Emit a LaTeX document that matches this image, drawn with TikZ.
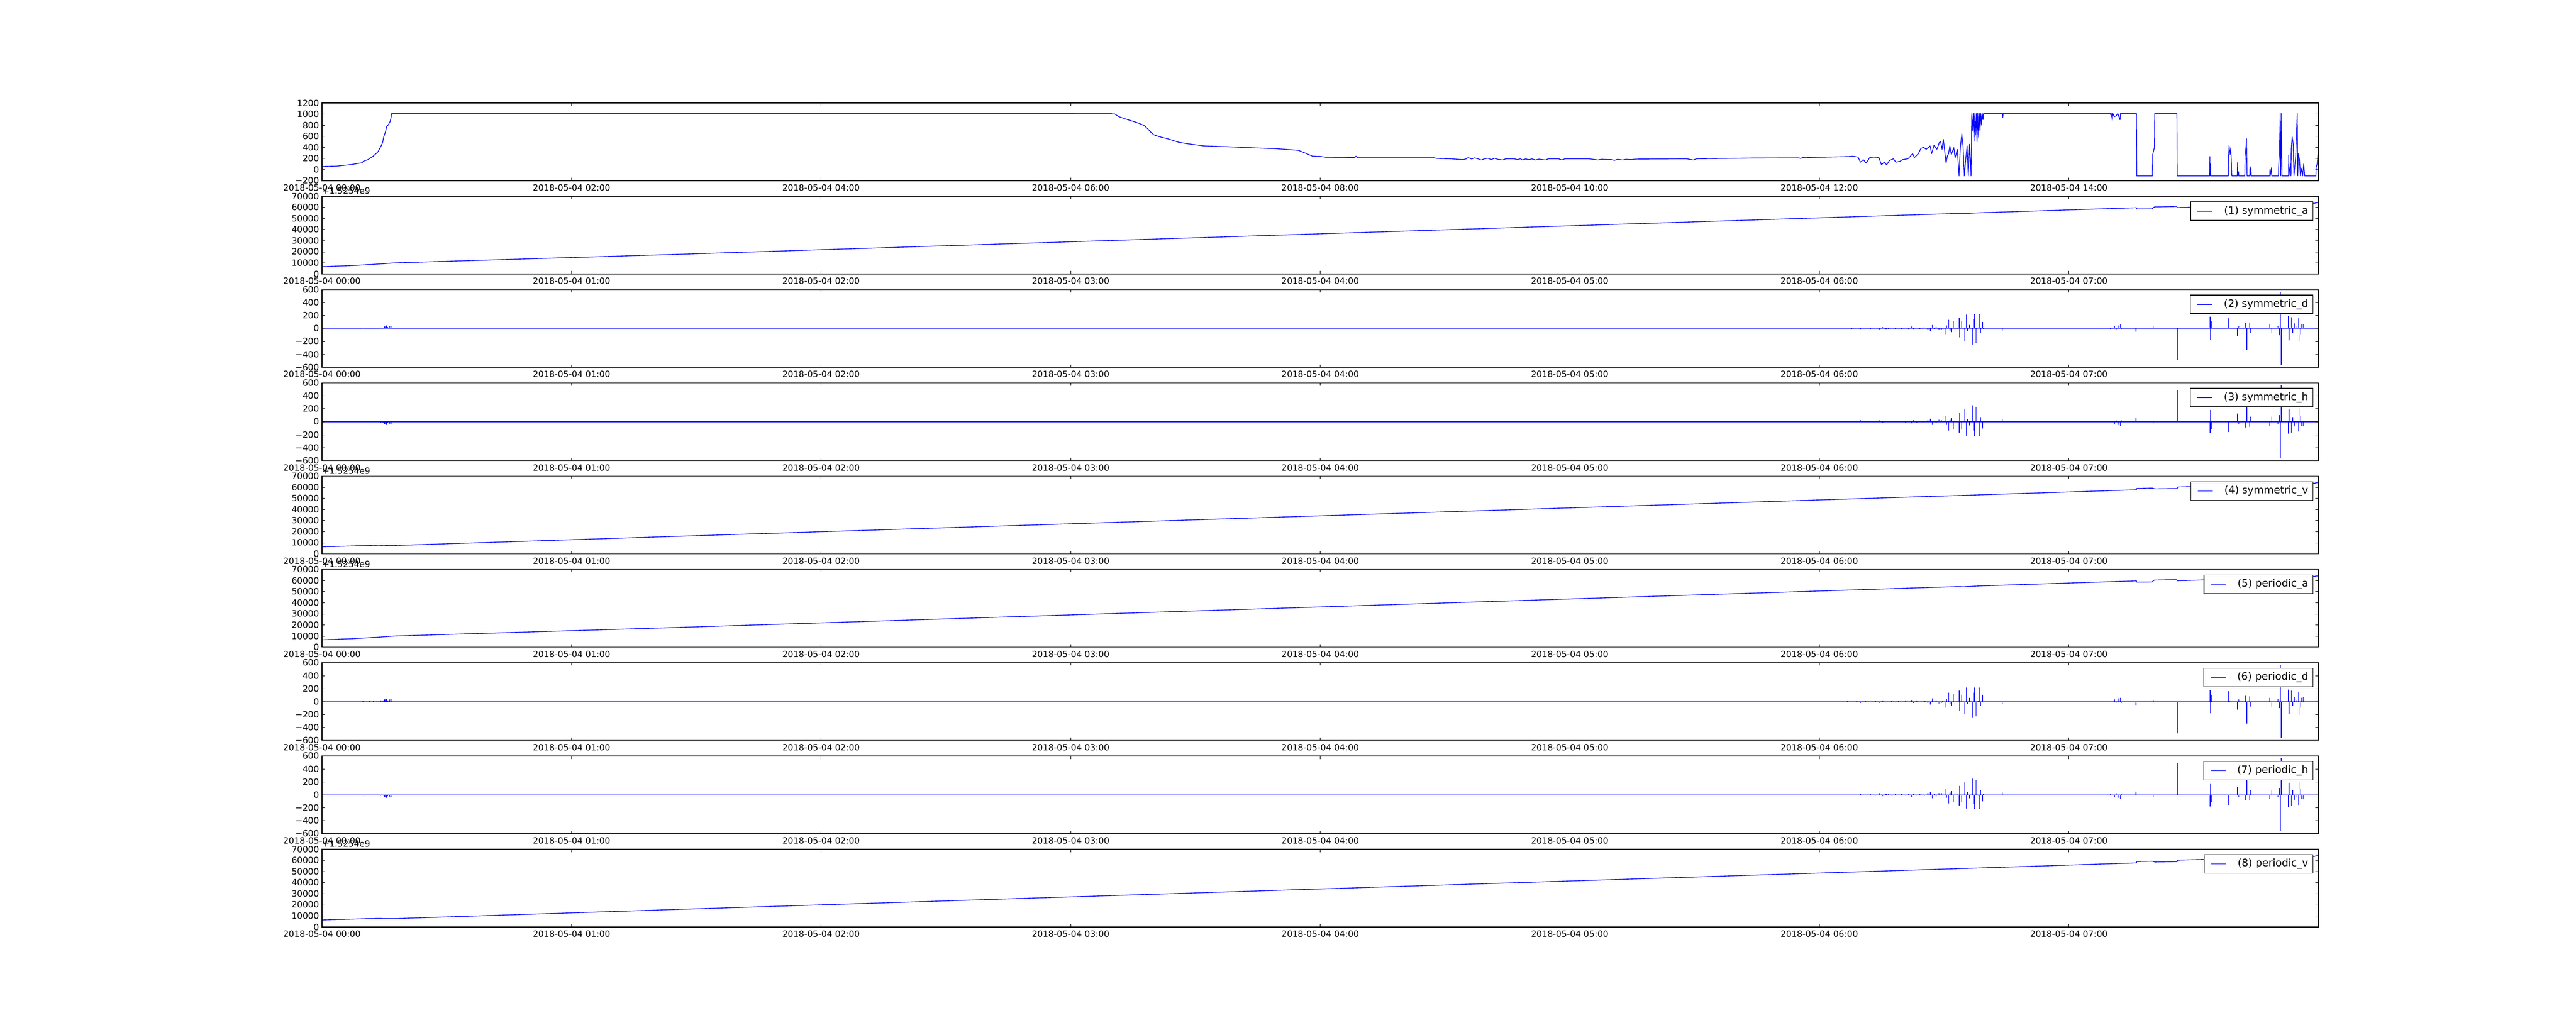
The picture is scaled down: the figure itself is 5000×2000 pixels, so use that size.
\documentclass[tikz,border=0pt]{standalone}
\usepackage{fontspec}
\setmainfont{DejaVu Sans}
\tikzset{
  frame/.style={line width=1bp},
  tick/.style={line width=0.5bp},
  curve/.style={blue, line width=1bp, line join=round},
  ticklabel/.style={inner sep=0pt, font=\fontsize{12bp}{14bp}\selectfont},
  legendbox/.style={draw, fill=white, line width=1bp, anchor=north east,
    inner xsep=6.5bp, inner ysep=0pt, minimum height=25.92bp,
    font=\fontsize{14.4bp}{17bp}\selectfont}
}
\newcommand\mpnum[1]{\ifnum#1<0 −\number\numexpr0-(#1)\relax\else#1\fi}
\newcommand\rawtrace{(0,56) -- (0.058,62) -- (0.121,93) -- (0.161,124) -- (0.165,149) -- (0.184,180) -- (0.205,242) -- (0.224,319) -- (0.237,427) -- (0.243,489) -- (0.247,582) -- (0.255,690) -- (0.259,776) -- (0.265,804) -- (0.272,854) -- (0.276,922) -- (0.279,1012)
  -- (3.163,1010) -- (3.168,998) -- (3.175,1006) -- (3.194,952) -- (3.218,915) -- (3.250,869) -- (3.273,835) -- (3.293,798) -- (3.309,736) -- (3.321,674) -- (3.333,628) -- (3.352,597) -- (3.392,551) -- (3.431,495) -- (3.471,464) -- (3.534,427) -- (3.629,412) -- (3.708,396) -- (3.826,377) -- (3.913,347) -- (3.945,288) -- (3.969,242) -- (4.000,238) -- (4.024,222) -- (4.139,217) -- (4.143,242) -- (4.150,217) -- (4.452,217) -- (4.468,201) -- (4.520,195) -- (4.573,180)
  -- (4.586,195) -- (4.593,217) -- (4.606,192) -- (4.619,211) -- (4.632,195) -- (4.645,173) -- (4.659,195) -- (4.672,205) -- (4.685,180) -- (4.698,205) -- (4.711,186) -- (4.731,173) -- (4.744,195) -- (4.777,195) -- (4.790,180) -- (4.803,195) -- (4.810,173) -- (4.823,192) -- (4.836,180) -- (4.849,192) -- (4.863,173) -- (4.876,189) -- (4.902,173) -- (4.915,195) -- (4.955,195) -- (4.968,173) -- (4.981,195) -- (5.073,195) -- (5.093,186) -- (5.113,173) -- (5.126,186) -- (5.166,180) -- (5.179,167) -- (5.192,186) -- (5.212,173) -- (5.225,186) -- (5.245,180) -- (5.264,189) -- (5.468,195) -- (5.495,173) -- (5.508,195) -- (5.729,208) -- (5.918,212) -- (5.925,200) -- (5.932,215)
  -- (6.118,235) -- (6.134,242) -- (6.155,226) -- (6.165,133) -- (6.176,180) -- (6.188,118) -- (6.202,217) -- (6.218,211) -- (6.239,217) -- (6.249,87) -- (6.260,133) -- (6.270,87) -- (6.281,164) -- (6.297,195) -- (6.307,133) -- (6.323,149) -- (6.334,180) -- (6.355,195) -- (6.365,242) -- (6.374,288) -- (6.381,217) -- (6.397,288) -- (6.407,381) -- (6.418,402) -- (6.428,365) -- (6.444,427) -- (6.450,288) -- (6.460,443) -- (6.471,365) -- (6.481,489) -- (6.486,504) -- (6.492,365) -- (6.497,545) -- (6.508,118) -- (6.513,242) -- (6.518,288) -- (6.523,427) -- (6.529,272) -- (6.539,396) -- (6.544,211) -- (6.553,365) -- (6.560,-114) -- (6.565,396) -- (6.571,643) -- (6.576,427) -- (6.581,-114) -- (6.586,149) -- (6.592,427) -- (6.597,-114) -- (6.602,458) -- (6.608,-114)
  -- (6.611,1012) -- (6.614,700) -- (6.617,1012) -- (6.620,520) -- (6.623,1012) -- (6.626,620) -- (6.629,1012) -- (6.632,500) -- (6.635,1012) -- (6.638,582) -- (6.641,1012) -- (6.644,700) -- (6.647,1012) -- (6.650,800) -- (6.653,1012) -- (6.656,900) -- (6.658,1012) -- (6.734,1012) -- (6.735,937) -- (6.737,1012) -- (7.166,1012) -- (7.167,990) -- (7.170,1012) -- (7.174,891) -- (7.176,1012) -- (7.182,953) -- (7.190,970) -- (7.196,1012) -- (7.205,897) -- (7.207,1012)
  -- (7.271,1012) -- (7.272,-114) -- (7.335,-114) -- (7.336,272) -- (7.339,328) -- (7.343,402) -- (7.344,1012) -- (7.433,1012) -- (7.434,-114) -- (7.564,-114) -- (7.565,235) -- (7.566,-114) -- (7.568,103) -- (7.569,-114) -- (7.639,-114) -- (7.640,211) -- (7.642,433) -- (7.646,272) -- (7.649,396) -- (7.653,-114) -- (7.675,-114) -- (7.676,127) -- (7.677,-114) -- (7.680,-36) -- (7.681,-114) -- (7.705,-114) -- (7.706,235) -- (7.710,421) -- (7.712,557) -- (7.714,-114) -- (7.725,-114) -- (7.726,56) -- (7.727,-114) -- (7.730,40) -- (7.731,-114) -- (7.805,-114) -- (7.806,10) -- (7.807,-114) -- (7.812,35) -- (7.813,-114)
  -- (7.840,-114) -- (7.841,100) -- (7.844,310) -- (7.847,1012) -- (7.849,-114) -- (7.852,1012) -- (7.854,-114) -- (7.880,-114) -- (7.881,263) -- (7.882,-114) -- (7.885,10) -- (7.889,102) -- (7.890,-114) -- (7.891,365) -- (7.895,588) -- (7.899,458) -- (7.902,-114) -- (7.906,100) -- (7.909,235) -- (7.915,1012) -- (7.917,-114) -- (7.920,297) -- (7.924,180) -- (7.928,-114) -- (7.933,25) -- (7.937,-114) -- (7.941,102) -- (7.945,-114) -- (7.990,-114) -- (7.991,40) -- (7.995,102) -- (7.998,272) -- (8,300)}
\newcommand\atrace{(0,6.6) -- (0.12,7.6) -- (0.237,9.1) -- (0.29,10.0) -- (1.394,17.5) -- (6.55,54.5) -- (6.58,54.4) -- (6.62,54.9) -- (6.64,55.1) -- (7.271,59.7) -- (7.272,58.6) -- (7.335,58.7) -- (7.336,59.4) -- (7.343,60.4) -- (7.433,60.8) -- (7.434,59.8) -- (7.985,63.7) -- (7.99,64.1) -- (8,64.2)}
\newcommand\vtrace{(0,6.35) -- (0.225,7.76) -- (0.28,7.45) -- (1.394,15.6) -- (6.761,54.0) -- (7.271,57.7) -- (7.272,58.9) -- (7.335,59.2) -- (7.345,58.5) -- (7.434,58.8) -- (7.436,60.2) -- (7.985,63.6) -- (7.99,64.0) -- (8,64.1)}
\newcommand\dspikes{%
  \draw[curve] (0,0) -- (8,0);
  \foreach \hr/\val in {0.164/12, 0.175/5, 0.190/6, 0.205/8, 0.220/10, 0.235/16, 0.245/14, 0.252/30, 0.258/45, 0.262/20, 0.268/10, 0.272/35, 0.276/40, 0.280/38,
    6.113/8, 6.130/-6, 6.150/10, 6.166/-19, 6.185/8, 6.205/-10, 6.225/12, 6.242/-24, 6.255/19, 6.268/-15, 6.278/-13, 6.290/10, 6.305/-10, 6.317/6, 6.330/-12, 6.345/14, 6.358/-16, 6.370/29, 6.377/-19, 6.390/15, 6.403/-10, 6.415/20, 6.423/13, 6.435/-25, 6.445/-45, 6.452/50, 6.462/-13, 6.468/20, 6.475/13, 6.480/-30, 6.489/-24, 6.495/6,
    6.504/-93, 6.511/45, 6.519/135, 6.524/-32, 6.530/-60, 6.537/114, 6.544/-50, 6.552/-10, 6.561/167, 6.562/-138, 6.570/109, 6.577/-19, 6.583/-193, 6.589/215, 6.594/-40, 6.602/56, 6.614/-252, 6.619/140, 6.623/220, 6.628/-225, 6.636/13, 6.643/220, 6.647/-72, 6.654/103, 6.657/-13, 6.733/-37,
    7.167/-13, 7.184/34, 7.189/-24, 7.197/48, 7.206/61, 7.210/-19, 7.269/-53, 7.338/29, 7.434/-490, 7.566/178, 7.568/-178, 7.571/109, 7.639/159, 7.643/6, 7.676/-125, 7.681/34, 7.708/87, 7.713/-337, 7.724/82, 7.729/-77,
    7.805/61, 7.813/-77, 7.838/40, 7.845/-103, 7.847/565, 7.851/-565, 7.880/188, 7.882/-188, 7.892/172, 7.897/-72, 7.904/74, 7.910/27, 7.921/154, 7.922/-204, 7.929/-93, 7.934/61, 7.939/69}
    {\draw[curve] (\hr,0) -- (\hr,\val);}}
\begin{document}
\begin{tikzpicture}[x=0.01in, y=0.01in]
  \useasboundingbox (0,0) rectangle (5000,2000);
  % curves
  \begin{scope}[shift={(625,1670.620)}, xscale=484.375, yscale=0.107817]
    \draw[curve] \rawtrace;
  \end{scope}
  \foreach \i/\tr in {2/\atrace, 6/\atrace, 5/\vtrace, 9/\vtrace} {
    \begin{scope}[shift={(625,{1649.057-(\i-1)*181.1321})}, xscale=484.375, yscale=2.156334]
      \draw[curve] \tr;
    \end{scope}
  }
  \foreach \i/\s in {3/1, 4/-1, 7/1, 8/-1} {
    \begin{scope}[shift={(625,{1724.529-(\i-1)*181.1321})}, xscale=484.375, yscale=\s*0.125786]
      \dspikes
    \end{scope}
  }
  % frames, x ticks and labels
  \foreach \i in {1,...,9} {
    \pgfmathsetmacro\yt{1800-(\i-1)*181.1321}
    \pgfmathsetmacro\yb{\yt-150.9434}
    \draw[frame] (625,\yb) rectangle (4500,\yt);
    \foreach \k in {0,...,7} {
      \pgfmathsetmacro\xx{625+\k*484.375}
      \pgfmathtruncatemacro\hh{\i==1 ? 2*\k : \k}
      \draw[tick] (\xx,\yb) -- ++(0,5.6) (\xx,\yt) -- ++(0,-5.6);
      \node[ticklabel, anchor=base] (xl\i-\k) at (\xx,\yb-19.7) {2018-05-04 \ifnum\hh<10 0\fi\hh:00};
    }
  }
  % y ticks and labels
  \foreach \val [count=\n from 0] in {-200,0,...,1200} {
    \pgfmathsetmacro\yy{1649.057+\n*21.5633}
    \draw[tick] (625,\yy) -- ++(5.6,0) (4500,\yy) -- ++(-5.6,0);
    \node[ticklabel, anchor=east] (yl1-\n) at (619.4,\yy) {\mpnum{\val}};
  }
  \foreach \i in {2,5,6,9} {
    \pgfmathsetmacro\yb{1649.057-(\i-1)*181.1321}
    \foreach \n in {0,...,7} {
      \pgfmathsetmacro\yy{\yb+\n*21.5633}
      \draw[tick] (625,\yy) -- ++(5.6,0) (4500,\yy) -- ++(-5.6,0);
      \node[ticklabel, anchor=east] (yl\i-\n) at (619.4,\yy) {\ifnum\n=0 0\else\n0000\fi};
    }
    \node[ticklabel, anchor=base west] (off\i) at (625,\yb+155.4) {+1.5254e9};
  }
  \foreach \i in {3,4,7,8} {
    \pgfmathsetmacro\yb{1649.057-(\i-1)*181.1321}
    \foreach \val [count=\n from 0] in {-600,-400,...,600} {
      \pgfmathsetmacro\yy{\yb+\n*25.1572}
      \draw[tick] (625,\yy) -- ++(5.6,0) (4500,\yy) -- ++(-5.6,0);
      \node[ticklabel, anchor=east] (yl\i-\n) at (619.4,\yy) {\mpnum{\val}};
    }
  }
  % legends
  \foreach \i/\name [count=\n] in {2/symmetric\_a, 3/symmetric\_d, 4/symmetric\_h, 5/symmetric\_v, 6/periodic\_a, 7/periodic\_d, 8/periodic\_h, 9/periodic\_v} {
    \node[legendbox] (leg\i) at (4490,{1790-(\i-1)*181.1321}) {\hspace*{40.3bp}(\n) \name};
    \draw[curve] ([xshift=10.1bp]leg\i.west) -- ([xshift=31bp]leg\i.west);
  }
\end{tikzpicture}
\end{document}
